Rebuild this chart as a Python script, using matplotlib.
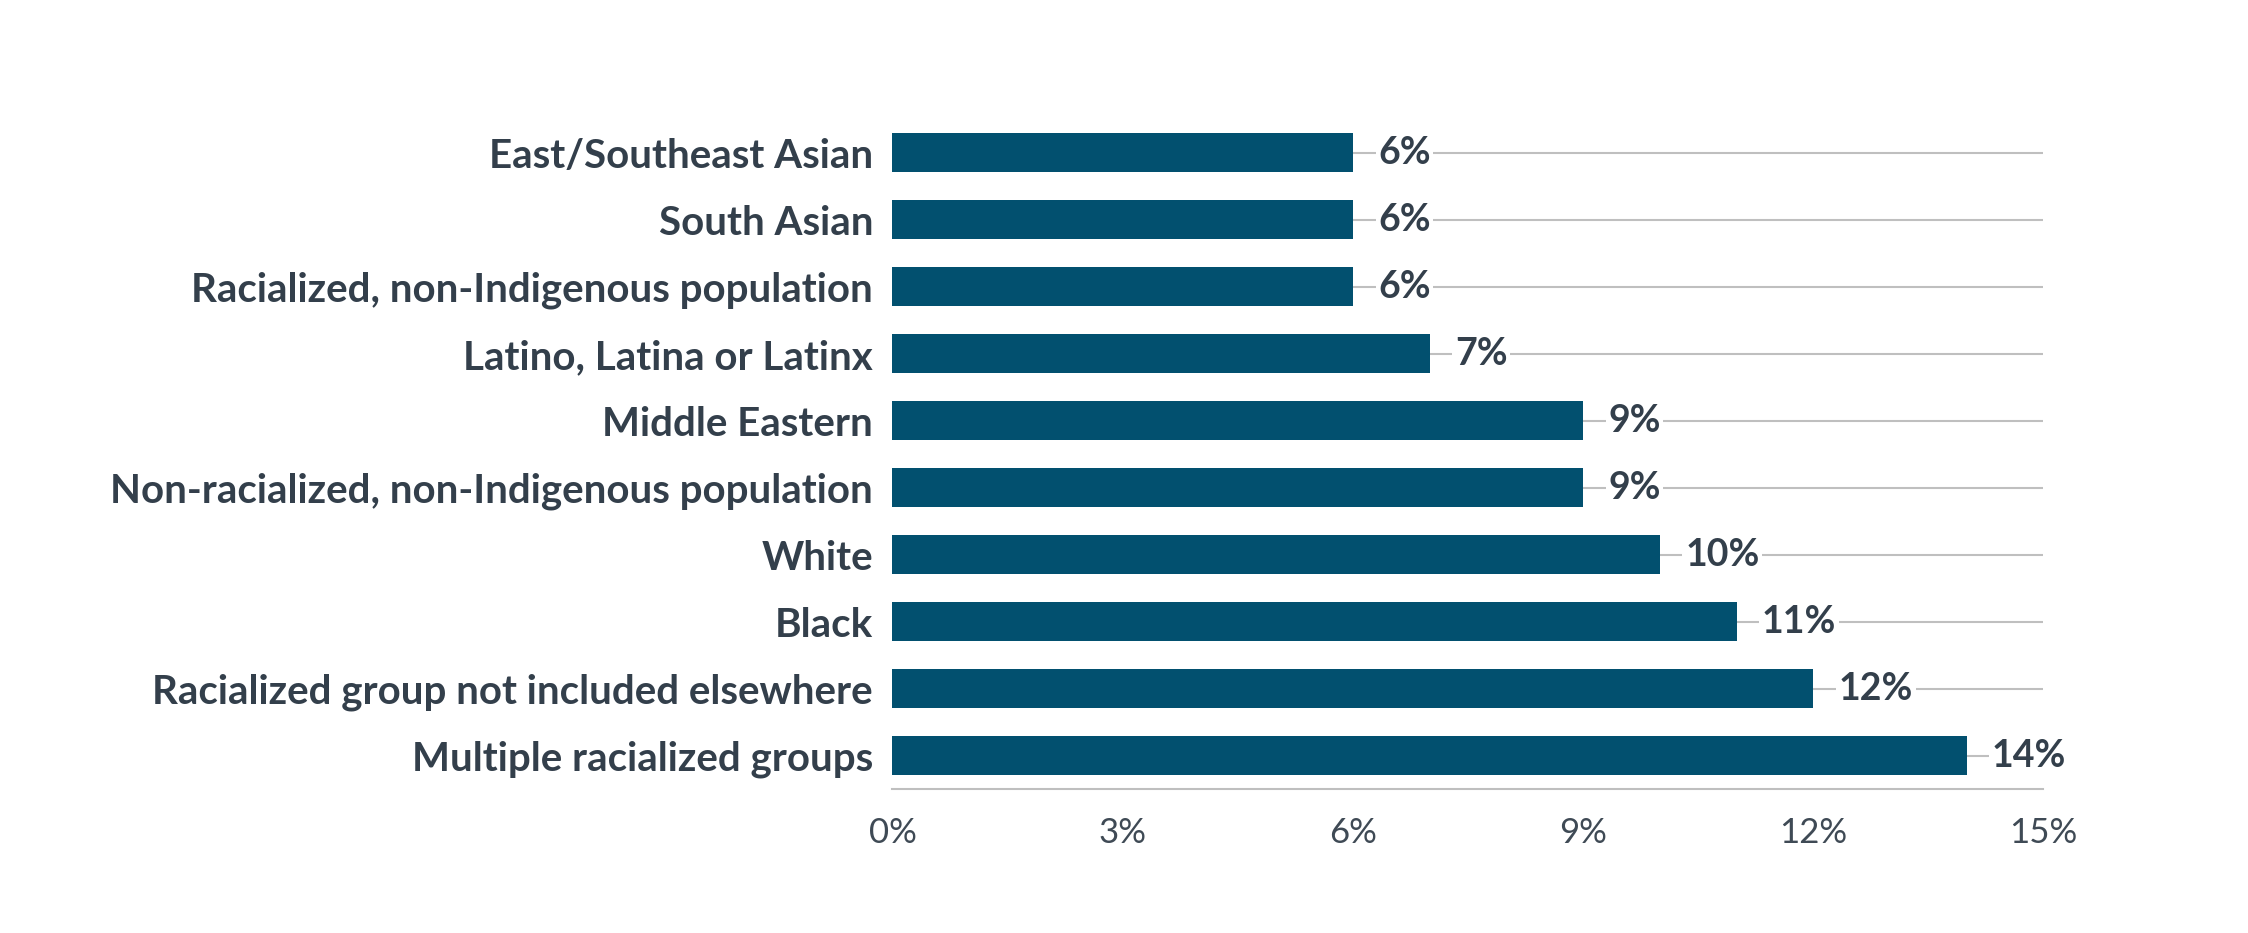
import matplotlib.pyplot as plt
import numpy as np
from matplotlib.ticker import FuncFormatter

categories = [
    'East/Southeast Asian',
    'South Asian',
    'Racialized, non-Indigenous population',
    'Latino, Latina or Latinx',
    'Middle Eastern',
    'Non-racialized, non-Indigenous population',
    'White',
    'Black',
    'Racialized group not included elsewhere',
    'Multiple racialized groups',
]
values = [6, 6, 6, 7, 9, 9, 10, 11, 12, 14]
x_ticks = [0, 3, 6, 9, 12, 15]

bar_color = '#02506F'
text_color = '#333F4B'
grid_color = '#BFBFBF'

plt.rcParams['font.family'] = ['Lato', 'DejaVu Sans']

fig = plt.figure(figsize=(22.48, 9.33), dpi=100)
ax = fig.add_axes([0.397, 0.154, 0.512, 0.718])

y = np.arange(len(categories))
ax.barh(y, values, height=0.58, color=bar_color, zorder=2)

# gridlines run through the bar centres
for yi in y:
    ax.axhline(yi, color=grid_color, lw=1.5, zorder=1)

for yi, v in zip(y, values):
    ax.text(v + 0.33, yi, f'{v}%', va='center', ha='left', fontsize=27,
            fontweight='bold', color=text_color, zorder=3,
            bbox=dict(facecolor='white', edgecolor='none', pad=2))

ax.set_xlim(0, 15)
ax.set_ylim(len(categories) - 0.5, -0.5)
ax.set_yticks(y)
ax.set_yticklabels(categories, fontsize=29, fontweight='bold', color=text_color)
ax.set_xticks(x_ticks)
ax.xaxis.set_major_formatter(FuncFormatter(lambda v, p: f'{v:.0f}%'))
for lbl in ax.get_xticklabels():
    lbl.set_fontsize(25)
    lbl.set_color('#3F4A55')
    lbl.set_fontweight('normal')

ax.tick_params(axis='both', length=0)
ax.tick_params(axis='x', pad=20)
ax.tick_params(axis='y', pad=14)
for side in ['top', 'right', 'left']:
    ax.spines[side].set_visible(False)
ax.spines['bottom'].set_color(grid_color)
ax.spines['bottom'].set_linewidth(1.5)

fig.savefig('out.png', dpi=100, facecolor='white')
